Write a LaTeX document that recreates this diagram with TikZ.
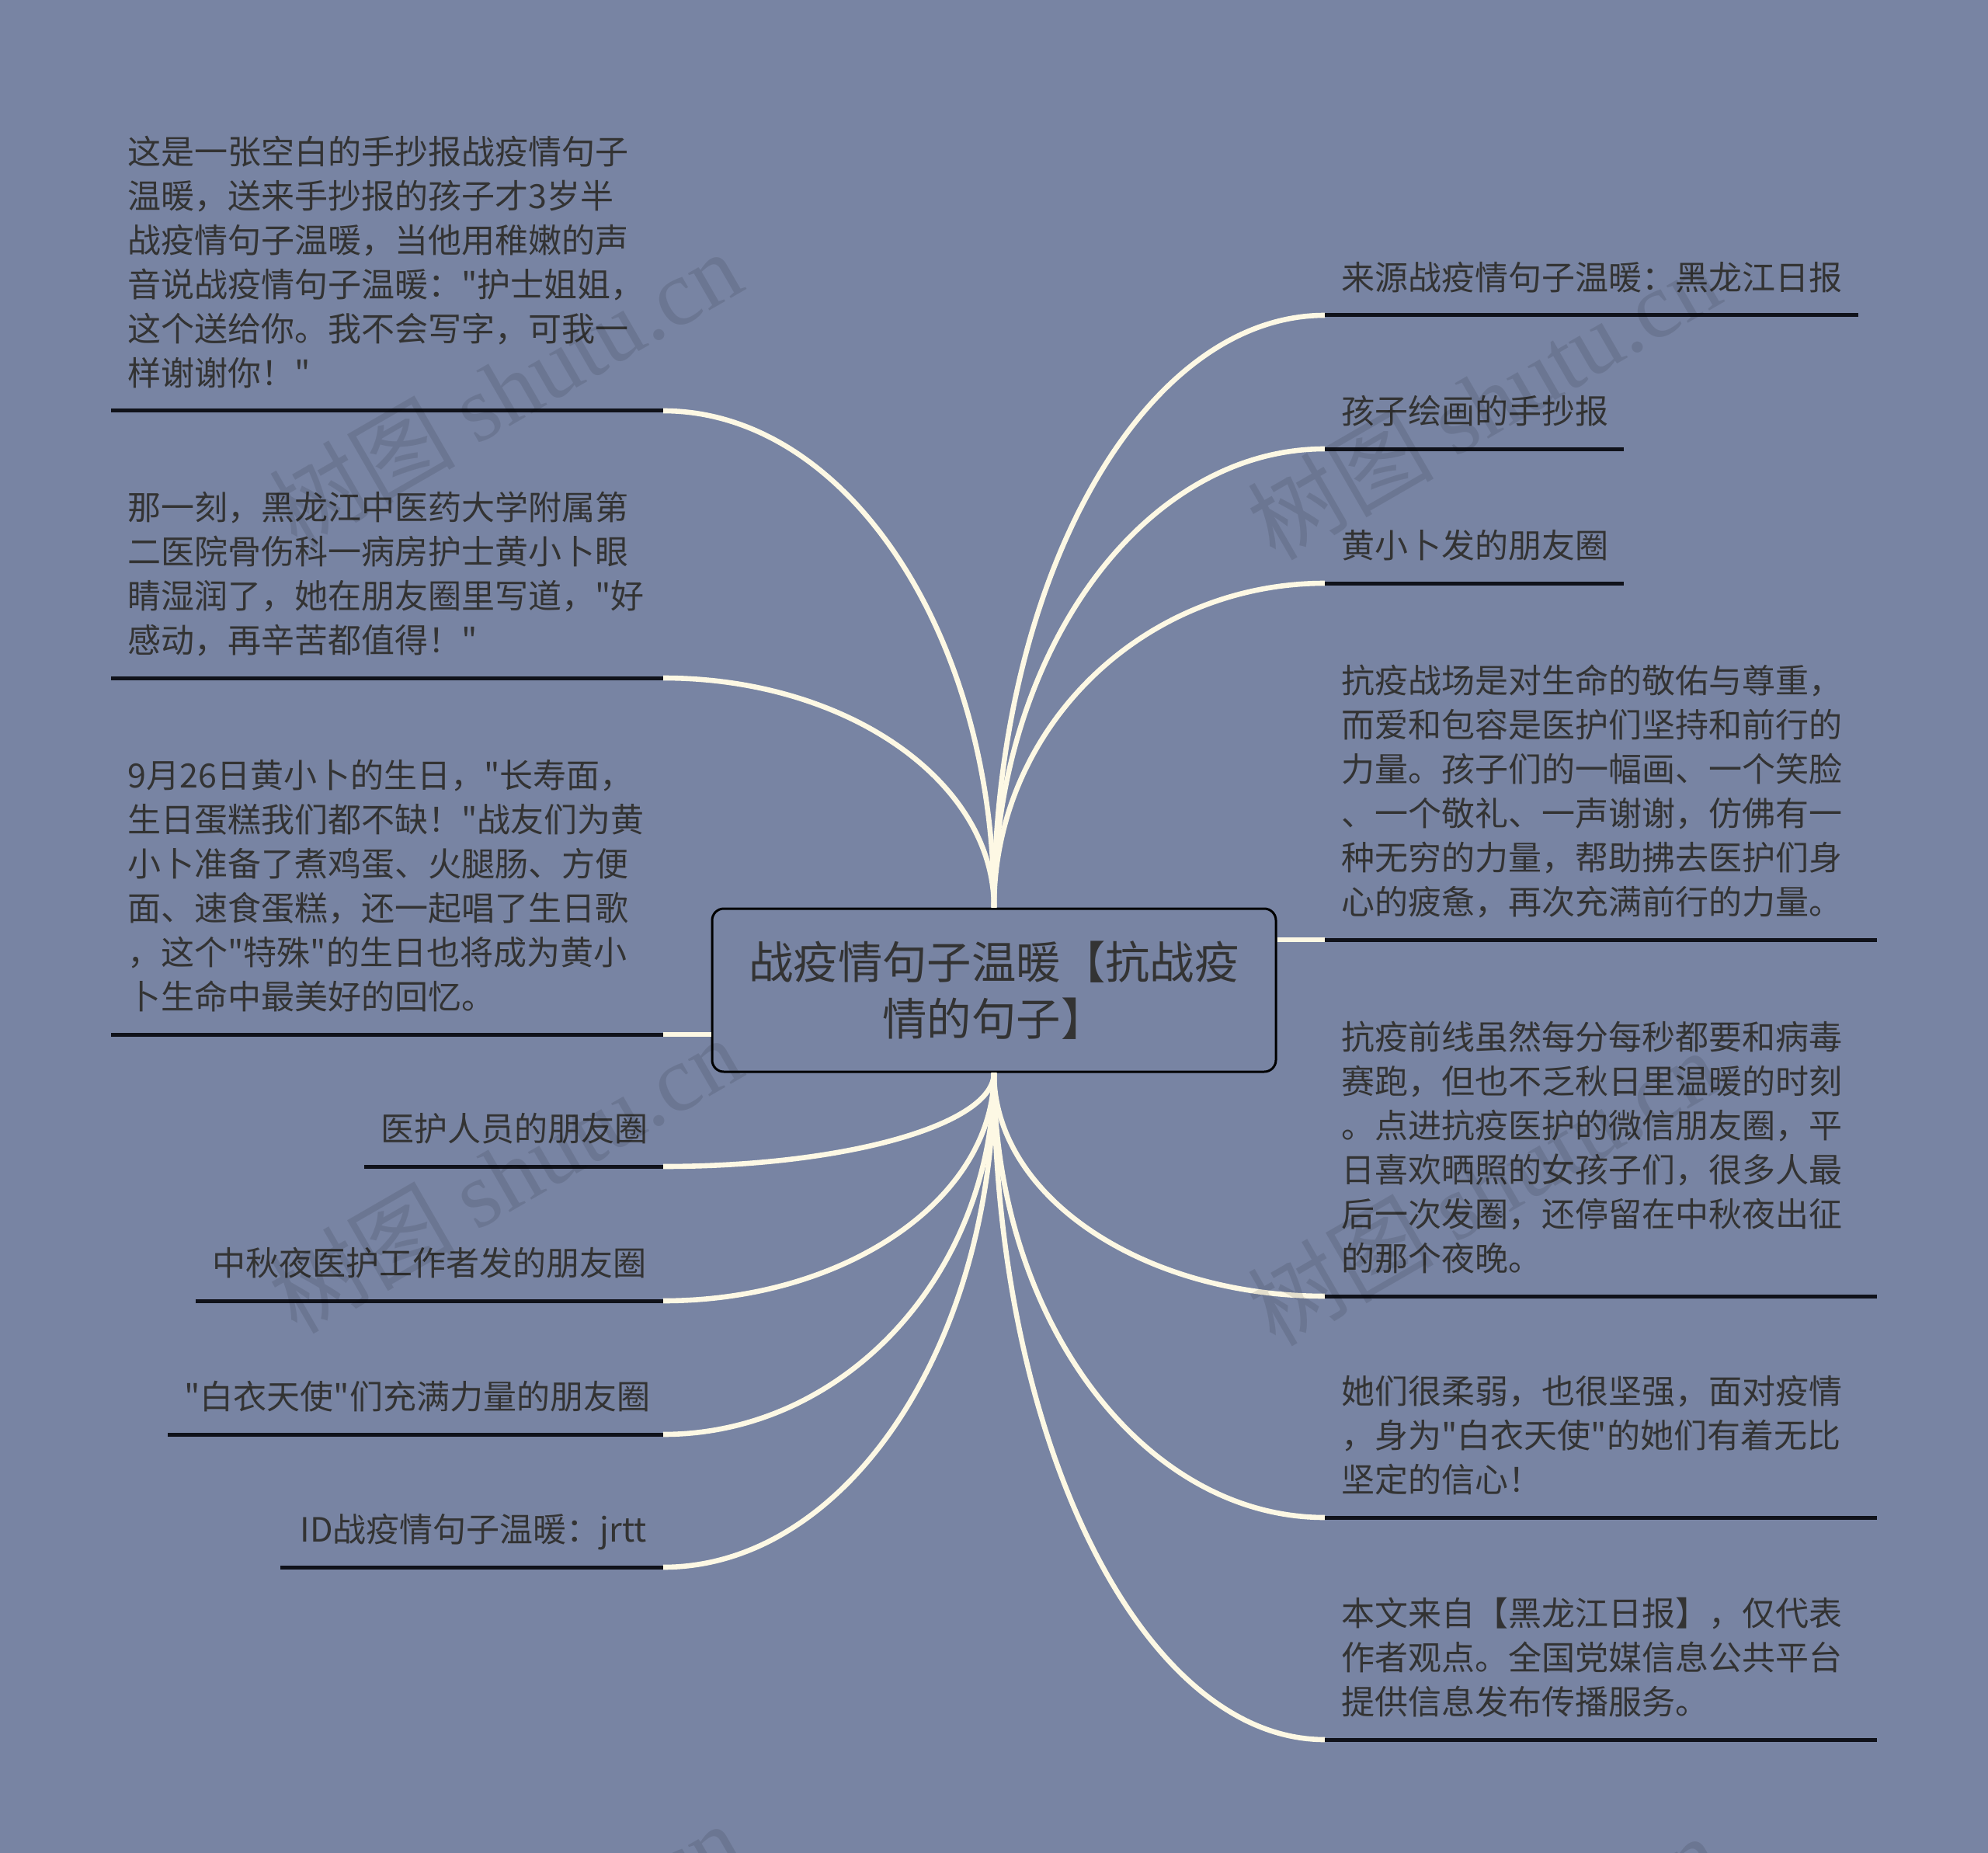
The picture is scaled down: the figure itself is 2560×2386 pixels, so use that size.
\documentclass[tikz,border=0pt]{standalone}
\usepackage{fontspec}
\setmainfont{Noto Sans CJK SC}[Ligatures=TeXOff]
\newfontfamily\wmlatin{Liberation Serif}
\usetikzlibrary{calc}
\definecolor{bgc}{RGB}{120,132,163}
\definecolor{txtc}{RGB}{51,51,51}
\definecolor{linec}{RGB}{253,248,228}
\definecolor{ulc}{RGB}{16,18,26}
\tikzset{
  conn/.style={draw=linec, line width=3.3pt},
  uline/.style={draw=ulc, line width=2.5pt},
  leaf/.style={inner xsep=10.5pt, inner ysep=0pt, text=txtc,
    font=\fontsize{21.5pt}{28.5pt}\selectfont,
    execute at end node={\rule[-16pt]{0pt}{1pt}}},
  lnode/.style={leaf, anchor=south east},
  rnode/.style={leaf, anchor=south west, align=left},
  rootbox/.style={draw=black, line width=1.5pt, rounded corners=7.5pt, fill=bgc,
    minimum width=363pt, minimum height=105pt, text=txtc, align=center,
    font=\fontsize{28.7pt}{36.5pt}\selectfont},
  wmark/.style={rotate=30, text=black, opacity=0.1,
    font=\fontsize{60pt}{66pt}\selectfont}
}
\newcommand\curveconn[2]{\draw[conn] let \p1=(#1), \p2=(#2) in
  (\p1) .. controls (\x1,{\y1+0.552*(\y2-\y1)}) and ({\x1+0.448*(\x2-\x1)},\y2) .. (\p2);}
\begin{document}
\begin{tikzpicture}[x=0.5pt,y=-0.5pt]
\fill[bgc] (0,0) rectangle (2560,2386);
\useasboundingbox (0,0) rectangle (2560,2386);

% root
\node[rootbox] (c) at (1280,1275) {战疫情句子温暖【抗战疫\\情的句子】};

% left nodes
\node[lnode, align=left, text width=334pt] (L1) at (854,529) {这是一张空白的手抄报战疫情句子\\温暖，送来手抄报的孩子才3岁半\\战疫情句子温暖，当他用稚嫩的声\\音说战疫情句子温暖："护士姐姐，\\这个送给你。我不会写字，可我一\\样谢谢你！"};
\node[lnode, align=left, text width=334pt] (L2) at (854,873) {那一刻，黑龙江中医药大学附属第\\二医院骨伤科一病房护士黄小卜眼\\睛湿润了，她在朋友圈里写道，"好\\感动，再辛苦都值得！"};
\node[lnode, align=left, text width=334pt] (L3) at (854,1332) {9月26日黄小卜的生日，"长寿面，\\生日蛋糕我们都不缺！"战友们为黄\\小卜准备了煮鸡蛋、火腿肠、方便\\面、速食蛋糕，还一起唱了生日歌\\，这个"特殊"的生日也将成为黄小\\卜生命中最美好的回忆。};
\node[lnode, align=right, text width=171pt] (L4) at (854,1502) {医护人员的朋友圈};
\node[lnode, align=right, text width=279.5pt] (L5) at (854,1675) {中秋夜医护工作者发的朋友圈};
\node[lnode, align=right, text width=297.5pt] (L6) at (854,1847) {"白衣天使"们充满力量的朋友圈};
\node[lnode, align=right, text width=225pt] (L7) at (854,2018) {ID战疫情句子温暖：jrtt};

% right nodes
\node[rnode, text width=322pt] (R1) at (1706,406) {来源战疫情句子温暖：黑龙江日报};
\node[rnode, text width=171pt] (R2) at (1706,578) {孩子绘画的手抄报};
\node[rnode, text width=171pt] (R3) at (1706,751) {黄小卜发的朋友圈};
\node[rnode, text width=334pt] (R4) at (1706,1210) {抗疫战场是对生命的敬佑与尊重，\\而爱和包容是医护们坚持和前行的\\力量。孩子们的一幅画、一个笑脸\\、一个敬礼、一声谢谢，仿佛有一\\种无穷的力量，帮助拂去医护们身\\心的疲惫，再次充满前行的力量。};
\node[rnode, text width=334pt] (R5) at (1706,1669) {抗疫前线虽然每分每秒都要和病毒\\赛跑，但也不乏秋日里温暖的时刻\\。点进抗疫医护的微信朋友圈，平\\日喜欢晒照的女孩子们，很多人最\\后一次发圈，还停留在中秋夜出征\\的那个夜晚。};
\node[rnode, text width=334pt] (R6) at (1706,1954) {她们很柔弱，也很坚强，面对疫情\\，身为"白衣天使"的她们有着无比\\坚定的信心！};
\node[rnode, text width=334pt] (R7) at (1706,2240) {本文来自【黑龙江日报】，仅代表\\作者观点。全国党媒信息公共平台\\提供信息发布传播服务。};

% connectors
\curveconn{c.north}{L1.south east}
\curveconn{c.north}{L2.south east}
\draw[conn] (L3.south east) -- (L3.south east -| c.west);
\curveconn{c.south}{L4.south east}
\curveconn{c.south}{L5.south east}
\curveconn{c.south}{L6.south east}
\curveconn{c.south}{L7.south east}
\curveconn{c.north}{R1.south west}
\curveconn{c.north}{R2.south west}
\curveconn{c.north}{R3.south west}
\draw[conn] (R4.south west) -- (R4.south west -| c.east);
\curveconn{c.south}{R5.south west}
\curveconn{c.south}{R6.south west}
\curveconn{c.south}{R7.south west}

% underlines
\foreach \n in {L1,L2,L3,L4,L5,L6,L7,R1,R2,R3,R4,R5,R6,R7}
  \draw[uline] (\n.south west) -- (\n.south east);

% watermarks
\begin{scope}
\clip (0,0) rectangle (2560,2386);
\node[wmark] (wm1) at (650,500) {树图 {\wmlatin shutu.cn}};
\node[wmark] (wm2) at (650,1512) {树图 {\wmlatin shutu.cn}};
\node[wmark] (wm3) at (650,2524) {树图 {\wmlatin shutu.cn}};
\node[wmark] (wm4) at (1910,516) {树图 {\wmlatin shutu.cn}};
\node[wmark] (wm5) at (1910,1528) {树图 {\wmlatin shutu.cn}};
\node[wmark] (wm6) at (1910,2540) {树图 {\wmlatin shutu.cn}};
\end{scope}
\end{tikzpicture}
\end{document}
